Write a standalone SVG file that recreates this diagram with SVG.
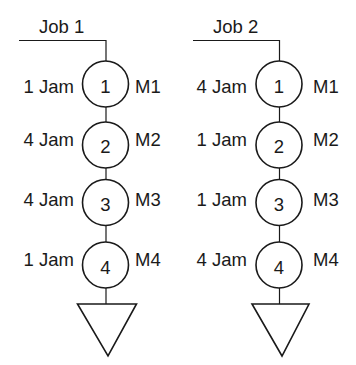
<svg xmlns="http://www.w3.org/2000/svg" width="356" height="365" viewBox="0 0 356 365">
<style>
text{font-family:"Liberation Sans",Arial,sans-serif;font-size:18.5px;fill:#1a1a1a}
.c{fill:#fff;stroke:#1a1a1a;stroke-width:1.6}
.t{fill:#fff;stroke:#1a1a1a;stroke-width:1.6;stroke-linejoin:miter}
.n{text-anchor:middle}
.l{text-anchor:end}
.w{stroke:#1a1a1a;stroke-width:1.2;fill:none}
</style>
<rect width="356" height="365" fill="#fff"/>
<g id="connectors">
<path class="w" d="M19 40.5H106V61"/>
<path class="w" d="M106 107V122"/>
<path class="w" d="M106 168V179"/>
<path class="w" d="M106 226V242"/>
<path class="w" d="M106 288V304"/>
<path class="w" d="M193 40.5H279.5V61"/>
<path class="w" d="M279.5 107V122"/>
<path class="w" d="M279.5 168V179"/>
<path class="w" d="M279.5 226V242"/>
<path class="w" d="M279.5 288V304"/>
</g>
<g id="job1-label"><text x="39" y="33">Job 1</text></g>
<g id="job2-label"><text x="213" y="33">Job 2</text></g>
<g id="j1-m1"><circle class="c" cx="105.5" cy="84" r="23"/><text class="n" x="105.5" y="92.5">1</text><text class="l" x="74" y="92.5">1 Jam</text><text x="135" y="92.5">M1</text></g>
<g id="j1-m2"><circle class="c" cx="105.5" cy="145" r="23"/><text class="n" x="105.5" y="153">2</text><text class="l" x="74" y="146">4 Jam</text><text x="135" y="146">M2</text></g>
<g id="j1-m3"><circle class="c" cx="105.5" cy="202.5" r="23"/><text class="n" x="105.5" y="210.5">3</text><text class="l" x="74" y="206">4 Jam</text><text x="135" y="206">M3</text></g>
<g id="j1-m4"><circle class="c" cx="105.5" cy="265" r="23"/><text class="n" x="105.5" y="274">4</text><text class="l" x="74" y="266">1 Jam</text><text x="135" y="266">M4</text></g>
<g id="j1-end"><polygon class="t" points="77.5,304 136.5,304 108,356"/></g>
<g id="j2-m1"><circle class="c" cx="279" cy="84" r="23"/><text class="n" x="279" y="92.5">1</text><text class="l" x="247" y="92.5">4 Jam</text><text x="313" y="92.5">M1</text></g>
<g id="j2-m2"><circle class="c" cx="279" cy="145" r="23"/><text class="n" x="279" y="153">2</text><text class="l" x="247" y="146">1 Jam</text><text x="313" y="146">M2</text></g>
<g id="j2-m3"><circle class="c" cx="279" cy="202.5" r="23"/><text class="n" x="279" y="210.5">3</text><text class="l" x="247" y="206">1 Jam</text><text x="313" y="206">M3</text></g>
<g id="j2-m4"><circle class="c" cx="279" cy="265" r="23"/><text class="n" x="279" y="274">4</text><text class="l" x="247" y="266">4 Jam</text><text x="313" y="266">M4</text></g>
<g id="j2-end"><polygon class="t" points="252,304 309,304 282,356"/></g>
</svg>
